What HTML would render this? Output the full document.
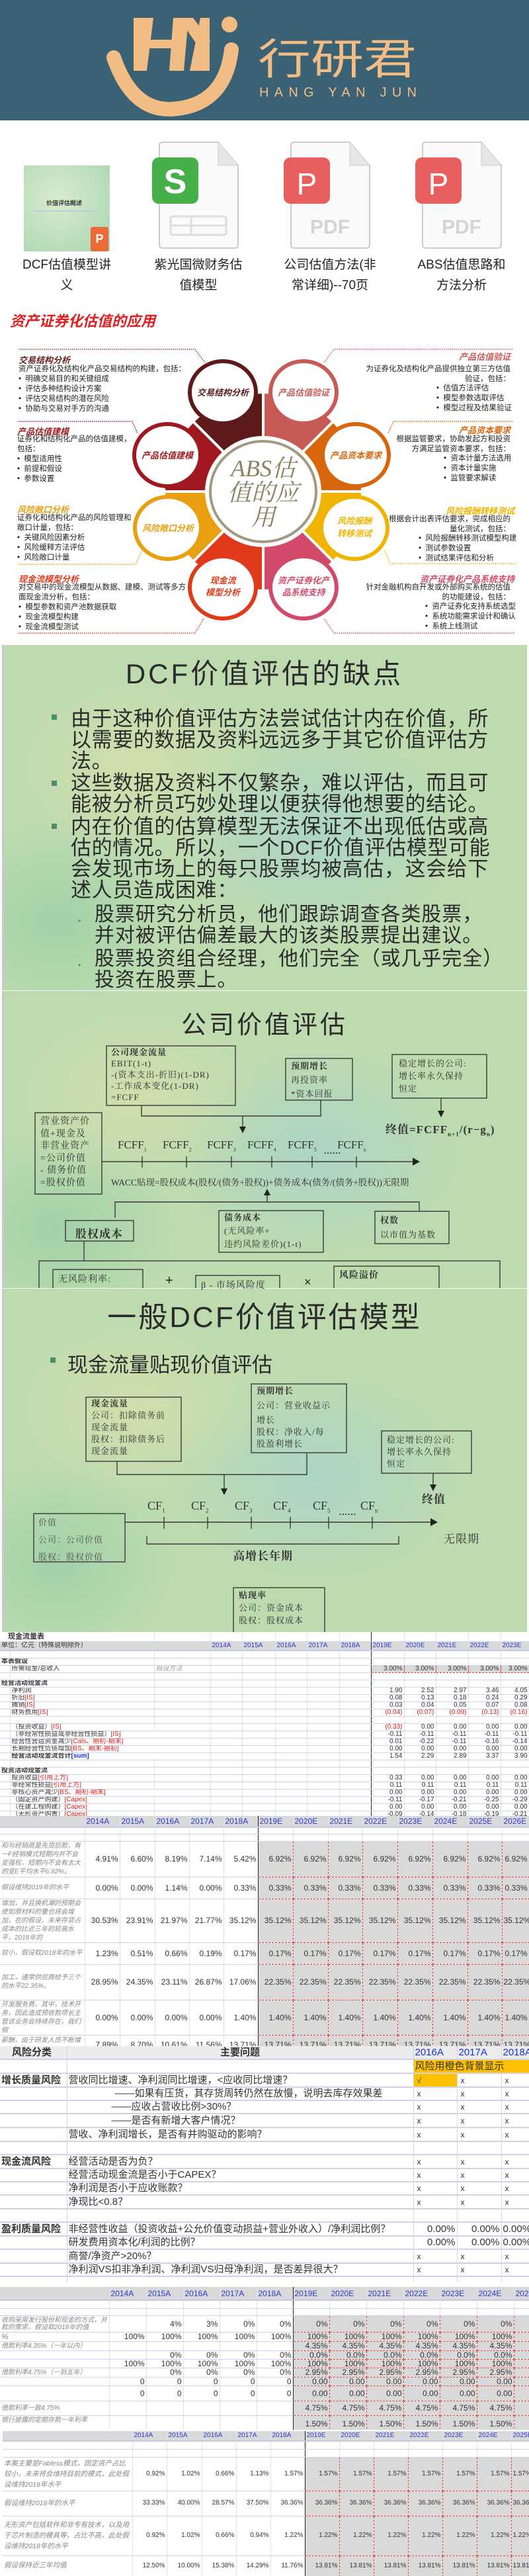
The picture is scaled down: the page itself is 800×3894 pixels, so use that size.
<!DOCTYPE html>
<html><head><meta charset="utf-8"><style>
*{margin:0;padding:0;box-sizing:border-box}
body{width:800px;height:3894px;position:relative;background:#fff;overflow:hidden;font-family:"Liberation Sans","Noto Sans CJK SC",sans-serif;color:#222}
.a{position:absolute;white-space:nowrap}
.sl{position:absolute;left:3px;width:794px;border-left:3px solid #c9c9c9;
background:radial-gradient(ellipse 200px 140px at 25% 35%,rgba(215,225,170,.7),transparent),radial-gradient(ellipse 220px 160px at 60% 55%,rgba(165,210,205,.7),transparent),radial-gradient(ellipse 180px 150px at 85% 20%,rgba(190,220,175,.8),transparent),radial-gradient(ellipse 180px 150px at 10% 80%,rgba(150,205,165,.7),transparent),#bedbb0}
.sr{font-family:"Liberation Serif","Noto Serif CJK SC",serif;color:#333;font-size:13px;letter-spacing:1px}
.b{font-weight:bold}
.bt{font-size:31px;letter-spacing:0.6px;line-height:32px;color:#2b2b2b;font-family:"Liberation Sans","Noto Sans CJK SC",sans-serif;white-space:normal}
.sq{position:absolute;width:8px;height:8px;background:#4a8f68}
.ab{font-size:11.5px;line-height:15px;color:#222}
.ah{font-size:13px;font-weight:bold;font-style:italic}
table{position:absolute;left:0;border-collapse:collapse;table-layout:fixed;font-size:10px;font-family:"Liberation Sans","Noto Sans CJK SC",sans-serif}
td{border-bottom:1px solid #cdd3e6;border-right:1px solid #dfe3ee;padding:0 2px;white-space:nowrap;overflow:hidden;text-align:right;color:#333;line-height:10px}
td.l{text-align:left}
tr.h td{background:#d9d9d9;color:#2a3ad0;text-align:left;border-bottom:2px solid #c4cbe0}
td.e{background:#d9d9d9;border:1px dashed #e03a3a}
td.n{color:#888;font-style:italic;text-align:left;white-space:normal;line-height:13px}
.r{color:#e02020}.bl{color:#1a2fe0}
td.k{border-right:1px solid #222}
.s2 td{font-size:12px}
.rk td{font-size:15px;text-align:left;border-bottom:2px solid #cfd5e6;border-right:1px solid #cfd5e6;line-height:16px}
.rk .x{font-size:12px;padding-left:5px}
</style></head><body>

<div class="a" style="left:0;top:0;width:800px;height:182px;background:#3a6174"></div>
<svg class="a" style="left:0;top:0" width="800" height="182">
<g fill="#f2bd84">
<polygon points="202,27 232,27 222,107 202,107"/>
<polygon points="222,60 262,60 260,73 220,73"/>
<polygon points="262,27 285,27 278,107 256,107"/>
<polygon points="270,27 292,27 318,62 305,78"/>
<polygon points="303,27 317,27 317,107 287,107"/>
<circle cx="347" cy="37" r="12"/>
</g>
<path d="M172,87 Q200,168 260,165 Q340,160 350,75" fill="none" stroke="#f2bd84" stroke-width="22" stroke-linecap="round"/>
<text x="390" y="112" font-size="64" fill="#f2bd84" font-family="Noto Sans CJK SC" textLength="240" lengthAdjust="spacingAndGlyphs">行研君</text>
<text x="392" y="146" font-size="20" fill="#f2bd84" font-family="Liberation Sans" textLength="238" lengthAdjust="spacing">HANG YAN JUN</text>
</svg>

<div class="a" style="left:36px;top:250px;width:130px;height:130px;background:radial-gradient(circle at 40% 40%,#d9ecd0,#b7dcb9 70%,#a9d3b0)"></div>
<div class="a" style="left:70px;top:300px;font-size:9px;font-weight:bold;color:#333">价值评估概述</div>
<div class="a" style="left:50px;top:318px;width:100px;height:2px;background:#b8d0d8"></div>
<div class="a" style="left:137px;top:343px;width:27px;height:37px;background:#ea6a38;border-radius:3px;color:#fff;font-weight:bold;font-size:18px;text-align:center;line-height:37px">P</div>
<svg class="a" style="left:0;top:210px" width="800" height="170">
<g id="d"><path d="M241,10 Q241,5 246,5 L330,5 L360,40 L360,160 Q360,165 355,165 L246,165 Q241,165 241,160 Z" fill="#fafafa" stroke="#ccc" stroke-width="2"/><path d="M330,5 L330,40 L360,40" fill="#e6e6e6" stroke="#ccc" stroke-width="1"/></g>
<use href="#d" x="199"/><use href="#d" x="398"/>
<rect x="230" y="28" width="70" height="70" rx="10" fill="#45b04a"/>
<text x="265" y="82" font-size="52" fill="#fff" text-anchor="middle" font-family="Liberation Sans" font-weight="bold">S</text>
<rect x="258" y="117" width="84" height="28" rx="3" fill="none" stroke="#ddd" stroke-width="3"/><line x1="258" y1="131" x2="342" y2="131" stroke="#ddd" stroke-width="3"/><line x1="289" y1="117" x2="289" y2="145" stroke="#ddd" stroke-width="3"/>
<rect x="429" y="28" width="70" height="70" rx="10" fill="#e95f5f"/>
<rect x="628" y="28" width="70" height="70" rx="10" fill="#e95f5f"/>
<text x="464" y="84" font-size="46" fill="#fff" text-anchor="middle" font-family="Liberation Sans">P</text>
<text x="663" y="84" font-size="46" fill="#fff" text-anchor="middle" font-family="Liberation Sans">P</text>
<text x="499" y="143" font-size="30" fill="#d4d4d4" text-anchor="middle" font-family="Liberation Sans" font-weight="bold">PDF</text>
<text x="698" y="143" font-size="30" fill="#d4d4d4" text-anchor="middle" font-family="Liberation Sans" font-weight="bold">PDF</text>
</svg>
<div class="a" style="left:21px;top:385px;width:160px;text-align:center;font-size:19px;line-height:31px;white-space:normal">DCF估值模型讲<br>义</div>
<div class="a" style="left:220px;top:385px;width:160px;text-align:center;font-size:19px;line-height:31px">紫光国微财务估<br>值模型</div>
<div class="a" style="left:414px;top:385px;width:170px;text-align:center;font-size:19px;line-height:31px">公司估值方法(非<br>常详细)--70页</div>
<div class="a" style="left:613px;top:385px;width:170px;text-align:center;font-size:19px;line-height:31px">ABS估值思路和<br>方法分析</div>

<div class="a" style="left:15px;top:468px;font-size:22px;color:#e02020;font-style:italic;font-weight:bold">资产证券化估值的应用</div>

<svg class="a" style="left:0;top:0" width="800" height="980">
<g stroke="#fff" stroke-width="4">
<path d="M398,743 L398,593 A150,150 0 0 1 504,637 Z" fill="#c85a55"/>
<path d="M398,743 L504,637 A150,150 0 0 1 548,743 Z" fill="#d8660c"/>
<path d="M398,743 L548,743 A150,150 0 0 1 504,849 Z" fill="#f0b400"/>
<path d="M398,743 L504,849 A150,150 0 0 1 398,893 Z" fill="#d24a6a"/>
<path d="M398,743 L398,893 A150,150 0 0 1 292,849 Z" fill="#e03a1a"/>
<path d="M398,743 L292,849 A150,150 0 0 1 248,743 Z" fill="#e8a010"/>
<path d="M398,743 L248,743 A150,150 0 0 1 292,637 Z" fill="#a01820"/>
<path d="M398,743 L292,637 A150,150 0 0 1 398,593 Z" fill="#5c1a1a"/>
</g>
<g fill="#fff" stroke-width="6">
<ellipse cx="337" cy="593" rx="50" ry="47" stroke="#5c1a1a"/>
<ellipse cx="459" cy="593" rx="50" ry="47" stroke="#c85a55"/>
<ellipse cx="538" cy="688" rx="50" ry="47" stroke="#d8660c"/>
<ellipse cx="536" cy="798" rx="50" ry="47" stroke="#f0b400"/>
<ellipse cx="459" cy="888" rx="50" ry="47" stroke="#d24a6a"/>
<ellipse cx="337" cy="888" rx="50" ry="47" stroke="#e03a1a"/>
<ellipse cx="254" cy="798" rx="50" ry="47" stroke="#e8a010"/>
<ellipse cx="253" cy="688" rx="50" ry="47" stroke="#a01820"/>
</g>
<ellipse cx="398" cy="743" rx="88" ry="84" fill="#fff"/>
<ellipse cx="398" cy="743" rx="80" ry="76" fill="#fff" stroke="#a09a80" stroke-width="4"/>
<g font-size="13" font-weight="bold" font-style="italic" text-anchor="middle" font-family="Noto Sans CJK SC">
<text x="337" y="598" fill="#5c1a1a">交易结构分析</text>
<text x="459" y="598" fill="#c85a55">产品估值验证</text>
<text x="538" y="693" fill="#d8660c">产品资本要求</text>
<text x="536" y="792" fill="#f0b400">风险报酬</text><text x="536" y="811" fill="#f0b400">转移测试</text>
<text x="459" y="882" fill="#d24a6a">资产证券化产</text><text x="459" y="900" fill="#d24a6a">品系统支持</text>
<text x="337" y="882" fill="#e03a1a">现金流</text><text x="337" y="900" fill="#e03a1a">模型分析</text>
<text x="254" y="803" fill="#e8a010">风险敞口分析</text>
<text x="253" y="693" fill="#a01820">产品估值建模</text>
</g>
<g font-size="36" fill="#8a8262" text-anchor="middle" font-family="Liberation Serif,Noto Serif CJK SC" font-style="italic">
<text x="398" y="720">ABS估</text><text x="398" y="757">值的应</text><text x="398" y="794">用</text></g>
<g fill="none" stroke-width="1.5" stroke-dasharray="1.5,1.5">
<path d="M28,528 L295,528 L310,548" stroke="#8b3a3a"/>
<path d="M28,637 L200,637 L208,655" stroke="#a01820"/>
<path d="M28,853 L205,853 L215,832" stroke="#e8a010"/>
<path d="M28,957 L295,957 L308,935" stroke="#e03a1a"/>
<path d="M775,528 L505,528 L490,548" stroke="#c85a55"/>
<path d="M775,637 L595,637 L587,655" stroke="#d8660c"/>
<path d="M780,852 L590,852 L582,832" stroke="#f0b400"/>
<path d="M778,957 L505,957 L490,935" stroke="#d24a6a"/>
</g>
</svg>
<div class="a ah" style="left:28px;top:534px;color:#6a2020">交易结构分析</div>
<div class="a ab" style="left:28px;top:551px">资产证券化及结构化产品交易结构的构建，包括：<br>•&nbsp; 明确交易目的和关键组成<br>•&nbsp; 评估多种结构设计方案<br>•&nbsp; 评估交易结构的潜在风险<br>•&nbsp; 协助与交易对手方的沟通</div>
<div class="a ah" style="left:26px;top:642px;color:#a01820">产品估值建模</div>
<div class="a ab" style="left:26px;top:657px">证券化和结构化产品的估值建模，<br>包括：<br>•&nbsp; 模型适用性<br>•&nbsp; 前提和假设<br>•&nbsp; 参数设置</div>
<div class="a ah" style="left:26px;top:760px;color:#e8a010">风险敞口分析</div>
<div class="a ab" style="left:26px;top:776px">证券化和结构化产品的风险管理和<br>敞口计量，包括：<br>•&nbsp; 关键风险因素分析<br>•&nbsp; 风险缓释方法评估<br>•&nbsp; 风险敞口计量</div>
<div class="a ah" style="left:28px;top:865px;color:#e03a1a">现金流模型分析</div>
<div class="a ab" style="left:28px;top:881px">对交易中的现金流模型从数据、建模、测试等多方<br>面现金流分析，包括：<br>•&nbsp; 模型参数和资产池数据获取<br>•&nbsp; 现金流模型构建<br>•&nbsp; 现金流模型测试</div>

<div class="a ah" style="right:28px;top:529px;color:#c85a55">产品估值验证</div>
<div class="a ab" style="right:28px;top:551px;text-align:right">为证券化及结构化产品提供独立第三方估值<br>验证，包括：</div>
<div class="a ab" style="left:660px;top:580px">•&nbsp; 估值方法评估<br>•&nbsp; 模型参数选取评估<br>•&nbsp; 模型过程及结果验证</div>
<div class="a ah" style="right:28px;top:640px;color:#d8660c">产品资本要求</div>
<div class="a ab" style="right:28px;top:657px;text-align:right">根据监管要求，协助发起方和投资<br>方满足监管资本要求，包括：</div>
<div class="a ab" style="left:671px;top:686px">•&nbsp; 资本计量方法选用<br>•&nbsp; 资本计量实施<br>•&nbsp; 监管要求解读</div>
<div class="a ah" style="right:22px;top:762px;color:#f0b400">风险报酬转移测试</div>
<div class="a ab" style="right:28px;top:778px;text-align:right">根据会计出表评估要求，完成相应的<br>量化测试，包括：</div>
<div class="a ab" style="left:633px;top:807px">•&nbsp; 风险报酬转移测试模型构建<br>•&nbsp; 测试参数设置<br>•&nbsp; 测试结果评估和分析</div>
<div class="a ah" style="right:22px;top:865px;color:#d24a6a">资产证券化产品系统支持</div>
<div class="a ab" style="right:28px;top:881px;text-align:right">针对金融机构自开发或外部购买系统的估值<br>的功能建设，包括：</div>
<div class="a ab" style="left:643px;top:910px">•&nbsp; 资产证券化支持系统选型<br>•&nbsp; 系统功能需求设计和确认<br>•&nbsp; 系统上线测试</div>

<div class="sl" style="top:975px;height:522px"></div>
<div class="sl" style="top:1498px;height:449px"></div>
<div class="sl" style="top:1948px;height:519px"></div>

<div class="a" style="left:0;width:800px;top:985px;text-align:center;font-size:42px;letter-spacing:4px;color:#2b2b2b">DCF价值评估的缺点</div>
<div class="sq" style="left:78px;top:1080px"></div><div class="sq" style="left:78px;top:1180px"></div><div class="sq" style="left:78px;top:1245px"></div>
<div class="a bt" style="left:107px;top:1071px;width:640px">由于这种价值评估方法尝试估计内在价值，所以需要的数据及资料远远多于其它价值评估方法。</div>
<div class="a bt" style="left:107px;top:1168px;width:640px">这些数据及资料不仅繁杂，难以评估，而且可能被分析员巧妙处理以便获得他想要的结论。</div>
<div class="a bt" style="left:107px;top:1234px;width:640px">内在价值的估算模型无法保证不出现低估或高估的情况。所以，一个DCF价值评估模型可能会发现市场上的每只股票均被高估，这会给下述人员造成困难：</div>
<div class="a" style="left:118px;top:1385px;font-size:12px;color:#4a8f68">•</div><div class="a" style="left:118px;top:1452px;font-size:12px;color:#4a8f68">•</div>
<div class="a bt" style="left:143px;top:1367px;width:595px;font-size:30px;letter-spacing:0.9px">股票研究分析员，他们跟踪调查各类股票，并对被评估偏差最大的该类股票提出建议。</div>
<div class="a bt" style="left:143px;top:1434px;width:625px;font-size:30px;letter-spacing:0.9px">股票投资组合经理，他们完全（或几乎完全）投资在股票上。</div>

<svg class="a" style="left:0;top:0" width="800" height="2470">
<defs><clipPath id="c2"><rect x="0" y="1498" width="800" height="449"/></clipPath><clipPath id="c3"><rect x="0" y="1948" width="800" height="519"/></clipPath></defs>
<g fill="none" stroke="#3a3a3a" stroke-width="1.4">
<rect x="161" y="1581" width="195" height="90"/><rect x="432" y="1600" width="101" height="63"/><rect x="593" y="1594" width="143" height="66"/>
<polyline points="214,1671 214,1687 485,1687 485,1663"/><line x1="367" y1="1687" x2="367" y2="1705"/><line x1="667" y1="1660" x2="667" y2="1681"/>
<rect x="53" y="1682" width="101" height="123"/><line x1="154" y1="1756" x2="625" y2="1756"/>
<path d="M215,1748V1765M282,1748V1765M350,1748V1765M411,1748V1765M472,1748V1765M539,1748V1765"/>
<line x1="404" y1="1817" x2="404" y2="1805"/><polyline points="174,1841 174,1817 634,1817 634,1831"/>
<rect x="99" y="1845" width="103" height="31"/><rect x="331" y="1830" width="158" height="63"/><rect x="567" y="1831" width="112" height="49"/>
<line x1="127" y1="1876" x2="127" y2="1906"/>
<g clip-path="url(#c2)"><rect x="59" y="1906" width="697" height="80"/><rect x="80" y="1919" width="136" height="60"/><rect x="296" y="1928" width="127" height="40"/><rect x="505" y="1914" width="159" height="60"/></g>
<rect x="130" y="2112" width="144" height="97"/><rect x="380" y="2092" width="144" height="104"/><rect x="577" y="2163" width="136" height="64"/>
<polyline points="177,2209 177,2229 464,2229 464,2196"/><line x1="339" y1="2229" x2="339" y2="2252"/><line x1="655" y1="2227" x2="655" y2="2246"/>
<rect x="51" y="2288" width="138" height="73"/><line x1="189" y1="2301" x2="653" y2="2301"/>
<path d="M248,2293V2311M314,2293V2311M380,2293V2311M439,2293V2311M497,2293V2311M563,2293V2311"/>
<polyline points="222,2322 222,2334 603,2334 603,2322"/>
<g clip-path="url(#c3)"><rect x="353" y="2400" width="138" height="80"/></g>
</g>
<g fill="#222">
<polygon points="362,1703 372,1703 367,1713"/><polygon points="662,1679 672,1679 667,1689"/><polygon points="624,1750 635,1756 624,1762"/><polygon points="399,1807 409,1807 404,1797"/>
<polygon points="334,2250 344,2250 339,2260"/><polygon points="650,2244 660,2244 655,2254"/><polygon points="651,2295 662,2301 651,2307"/>
</g>
</svg>

<div class="a" style="left:0;width:800px;top:1518px;text-align:center;font-size:38px;letter-spacing:4px;color:#2b2b2b">公司价值评估</div>
<div class="a sr" style="left:168px;top:1582px;line-height:17px"><span class="b">公司现金流量</span><br>EBIT(1-t)<br>-(资本支出-折旧)(1-DR)<br>-工作成本变化(1-DR)<br>=FCFF</div>
<div class="a sr" style="left:440px;top:1601px;line-height:21px"><span class="b">预期增长</span><br>再投资率<br>*资本回报</div>
<div class="a sr" style="left:603px;top:1598px;line-height:19px">稳定增长的公司:<br>增长率永久保持<br>恒定</div>
<div class="a sr" style="left:583px;top:1693px;font-size:17px;font-weight:bold">终值=FCFF<sub style="font-size:9px">n+1</sub>/(r−g<sub style="font-size:9px">n</sub>)</div>
<div class="a sr" style="left:61px;top:1687px;line-height:18.5px;font-size:14px">营业资产价<br>值+现金及<br>非营业资产<br>=公司价值<br>- 债务价值<br>=股权价值</div>
<div class="a sr" style="left:178px;top:1721px;font-size:17px;letter-spacing:0">FCFF<sub style="font-size:8px">1</sub></div>
<div class="a sr" style="left:246px;top:1721px;font-size:17px;letter-spacing:0">FCFF<sub style="font-size:8px">2</sub></div>
<div class="a sr" style="left:313px;top:1721px;font-size:17px;letter-spacing:0">FCFF<sub style="font-size:8px">3</sub></div>
<div class="a sr" style="left:374px;top:1721px;font-size:17px;letter-spacing:0">FCFF<sub style="font-size:8px">4</sub></div>
<div class="a sr" style="left:435px;top:1721px;font-size:17px;letter-spacing:0">FCFF<sub style="font-size:8px">5</sub></div>
<div class="a sr" style="left:510px;top:1721px;font-size:17px;letter-spacing:0">FCFF<sub style="font-size:8px">n</sub></div>
<div class="a b" style="left:490px;top:1733px;font-size:12px;letter-spacing:1px">......</div>
<div class="a sr" style="left:168px;top:1776px;letter-spacing:0;font-size:13.5px">WACC贴现=股权成本(股权/(债务+股权))+债务成本(债务/(债务+股权))无限期</div>
<div class="a sr b" style="left:114px;top:1851px;font-size:17px">股权成本</div>
<div class="a sr" style="left:339px;top:1831px;line-height:20px"><span class="b">债务成本</span><br>(无风险率+<br>违约风险差价)(1-t)</div>
<div class="a sr" style="left:575px;top:1834px;line-height:22px"><span class="b">权数</span><br>以市值为基数</div>
<div class="a sr" style="left:88px;top:1923px;font-size:14px">无风险利率:</div>
<div class="a" style="left:250px;top:1925px;font-size:20px">+</div>
<div class="a sr" style="left:304px;top:1932px;font-size:14px">β - 市场风险度</div>
<div class="a" style="left:460px;top:1928px;font-size:18px">×</div>
<div class="a sr b" style="left:513px;top:1917px;font-size:14px">风险溢价</div>

<div class="a" style="left:0;width:800px;top:1955px;text-align:center;font-size:44px;letter-spacing:3px;color:#2b2b2b">一般DCF价值评估模型</div>
<div class="sq" style="left:76px;top:2052px"></div>
<div class="a" style="left:102px;top:2038px;font-size:31px;color:#2b2b2b">现金流量贴现价值评估</div>
<div class="a sr" style="left:138px;top:2113px;line-height:18px"><span class="b">现金流量</span><br>公司：扣除债务前<br>现金流量<br>股权：扣除债务后<br>现金流量</div>
<div class="a sr" style="left:388px;top:2094px;line-height:18px"><span class="b">预期增长</span><br><span style="line-height:26px">公司：营业收益示</span><br>增长<br>股权：净收入/每<br>股盈利增长</div>
<div class="a sr" style="left:585px;top:2168px;line-height:18px">稳定增长的公司:<br>增长率永久保持<br>恒定</div>
<div class="a sr b" style="left:638px;top:2252px;font-size:17px">终值</div>
<div class="a sr" style="left:223px;top:2266px;font-size:18px;letter-spacing:0">CF<sub style="font-size:9px">1</sub></div>
<div class="a sr" style="left:289px;top:2266px;font-size:18px;letter-spacing:0">CF<sub style="font-size:9px">2</sub></div>
<div class="a sr" style="left:355px;top:2266px;font-size:18px;letter-spacing:0">CF<sub style="font-size:9px">3</sub></div>
<div class="a sr" style="left:413px;top:2266px;font-size:18px;letter-spacing:0">CF<sub style="font-size:9px">4</sub></div>
<div class="a sr" style="left:473px;top:2266px;font-size:18px;letter-spacing:0">CF<sub style="font-size:9px">5</sub></div>
<div class="a sr" style="left:545px;top:2266px;font-size:18px;letter-spacing:0">CF<sub style="font-size:9px">n</sub></div>
<div class="a b" style="left:513px;top:2279px;font-size:12px;letter-spacing:1px">......</div>
<div class="a sr" style="left:58px;top:2291px;line-height:22px;color:#555"><span>价值</span><br><span style="line-height:30px">公司：公司价值</span><br>股权：股权价值</div>
<div class="a sr" style="left:671px;top:2312px;font-size:17px">无限期</div>
<div class="a sr b" style="left:353px;top:2338px;font-size:17px">高增长年期</div>
<div class="a sr" style="left:361px;top:2402px;line-height:19px"><span class="b">贴现率</span><br>公司：资金成本<br>股权：股权成本</div>

<div class="a" style="left:0;top:2467px;width:800px;height:278px;overflow:hidden">
<table style="top:0;width:800px">
<colgroup><col style="width:15px"><col style="width:218px"><col style="width:85px"><col style="width:48px"><col style="width:50px"><col style="width:48px"><col style="width:49px"><col style="width:48px"><col style="width:50px"><col style="width:48px"><col style="width:49px"><col style="width:49px"><col style="width:43px"></colgroup>
<tr style="height:14px"><td class="l" colspan="2" style="font-weight:bold;font-size:11px;padding-left:12px">现金流量表</td><td></td><td></td><td></td><td></td><td></td><td class="k"></td><td></td><td></td><td></td><td></td><td></td></tr>
<tr class="h" style="height:14px"><td colspan="2" style="color:#333">单位：亿元（特殊说明除外）</td><td></td><td>2014A</td><td>2015A</td><td>2016A</td><td>2017A</td><td class="k">2018A</td><td>2019E</td><td>2020E</td><td>2021E</td><td>2022E</td><td>2023E</td></tr>
<tr style="height:11px"><td></td><td></td><td></td><td></td><td></td><td></td><td></td><td class="k"></td><td></td><td></td><td></td><td></td><td></td></tr>
<tr style="height:11px"><td class="l b" colspan="2">本表假设</td><td></td><td></td><td></td><td></td><td></td><td class="k"></td><td></td><td></td><td></td><td></td><td></td></tr>
<tr style="height:11px"><td></td><td class="l">所需现金/总收入</td><td class="l" style="color:#999;font-style:italic">假设方法</td><td></td><td></td><td></td><td></td><td class="k"></td><td class="e">3.00%</td><td class="e">3.00%</td><td class="e">3.00%</td><td class="e">3.00%</td><td class="e">3.00%</td></tr>
<tr style="height:11px"><td></td><td></td><td></td><td></td><td></td><td></td><td></td><td class="k"></td><td></td><td></td><td></td><td></td><td></td></tr>
<tr style="height:11px"><td class="l b" colspan="2">经营活动现金流</td><td></td><td></td><td></td><td></td><td></td><td class="k"></td><td></td><td></td><td></td><td></td><td></td></tr>
<tr style="height:11px"><td></td><td class="l">净利润</td><td></td><td></td><td></td><td></td><td></td><td class="k"></td><td>1.90</td><td>2.52</td><td>2.97</td><td>3.46</td><td>4.05</td></tr>
<tr style="height:11px"><td></td><td class="l">折旧<span class="r">[IS]</span></td><td></td><td></td><td></td><td></td><td></td><td class="k"></td><td>0.08</td><td>0.13</td><td>0.18</td><td>0.24</td><td>0.29</td></tr>
<tr style="height:11px"><td></td><td class="l">摊销<span class="r">[IS]</span></td><td></td><td></td><td></td><td></td><td></td><td class="k"></td><td>0.03</td><td>0.04</td><td>0.05</td><td>0.07</td><td>0.08</td></tr>
<tr style="height:11px"><td></td><td class="l">财务费用<span class="r">[IS]</span></td><td></td><td></td><td></td><td></td><td></td><td class="k"></td><td class="r">(0.04)</td><td class="r">(0.07)</td><td class="r">(0.09)</td><td class="r">(0.13)</td><td class="r">(0.16)</td></tr>
<tr style="height:11px"><td></td><td></td><td></td><td></td><td></td><td></td><td></td><td class="k"></td><td></td><td></td><td></td><td></td><td></td></tr>
<tr style="height:11px"><td></td><td class="l">（投资收益）<span class="r">[IS]</span></td><td></td><td></td><td></td><td></td><td></td><td class="k"></td><td class="r">(0.33)</td><td>0.00</td><td>0.00</td><td>0.00</td><td>0.00</td></tr>
<tr style="height:11px"><td></td><td class="l" colspan="2">（非经常性损益或非经营性损益）<span class="r">[IS]</span></td><td></td><td></td><td></td><td></td><td class="k"></td><td>-0.11</td><td>-0.11</td><td>-0.11</td><td>-0.11</td><td>-0.11</td></tr>
<tr style="height:11px"><td></td><td class="l" colspan="2">经营性营运资金减少<span class="r">[Cals、期初-期末]</span></td><td></td><td></td><td></td><td></td><td class="k"></td><td>0.01</td><td>-0.22</td><td>-0.11</td><td>-0.16</td><td>-0.14</td></tr>
<tr style="height:11px"><td></td><td class="l" colspan="2">长期经营性负债增加<span class="r">[BS、期末-期初]</span></td><td></td><td></td><td></td><td></td><td class="k"></td><td>0.00</td><td>0.00</td><td>0.00</td><td>0.00</td><td>0.00</td></tr>
<tr style="height:11px"><td></td><td class="l b" colspan="2">经营活动现金流合计<span class="bl">[sum]</span></td><td></td><td></td><td></td><td></td><td class="k"></td><td>1.54</td><td>2.29</td><td>2.89</td><td>3.37</td><td>3.90</td></tr>
<tr style="height:11px"><td></td><td></td><td></td><td></td><td></td><td></td><td></td><td class="k"></td><td></td><td></td><td></td><td></td><td></td></tr>
<tr style="height:11px"><td class="l b" colspan="2">投资活动现金流</td><td></td><td></td><td></td><td></td><td></td><td class="k"></td><td></td><td></td><td></td><td></td><td></td></tr>
<tr style="height:11px"><td></td><td class="l">投资收益<span class="r">[引用上方]</span></td><td></td><td></td><td></td><td></td><td></td><td class="k"></td><td>0.33</td><td>0.00</td><td>0.00</td><td>0.00</td><td>0.00</td></tr>
<tr style="height:11px"><td></td><td class="l">非经常性损益<span class="r">[引用上方]</span></td><td></td><td></td><td></td><td></td><td></td><td class="k"></td><td>0.11</td><td>0.11</td><td>0.11</td><td>0.11</td><td>0.11</td></tr>
<tr style="height:11px"><td></td><td class="l" colspan="2">非核心资产减少<span class="r">[BS、期初-期末]</span></td><td></td><td></td><td></td><td></td><td class="k"></td><td>0.00</td><td>0.00</td><td>0.00</td><td>0.00</td><td>0.00</td></tr>
<tr style="height:11px"><td></td><td class="l">（固定资产购建）<span class="r">[Capex]</span></td><td></td><td></td><td></td><td></td><td></td><td class="k"></td><td>-0.11</td><td>-0.17</td><td>-0.21</td><td>-0.25</td><td>-0.29</td></tr>
<tr style="height:11px"><td></td><td class="l">（在建工程购建）<span class="r">[Capex]</span></td><td></td><td></td><td></td><td></td><td></td><td class="k"></td><td>0.00</td><td>0.00</td><td>0.00</td><td>0.00</td><td>0.00</td></tr>
<tr style="height:11px"><td></td><td class="l">（无形资产购置）<span class="r">[Capex]</span></td><td></td><td></td><td></td><td></td><td></td><td class="k"></td><td>-0.09</td><td>-0.14</td><td>-0.18</td><td>-0.19</td><td>-0.21</td></tr>
</table></div>

<div class="a" style="left:0;top:2745px;width:800px;height:348px;overflow:hidden">
<table class="s2" style="top:0;width:800px">
<colgroup><col style="width:128px"><col style="width:53px"><col style="width:53px"><col style="width:52px"><col style="width:52px"><col style="width:52px"><col style="width:53px"><col style="width:53px"><col style="width:52px"><col style="width:53px"><col style="width:53px"><col style="width:53px"><col style="width:52px"><col style="width:41px"></colgroup>
<tr class="h" style="height:17px"><td></td><td>2014A</td><td>2015A</td><td>2016A</td><td>2017A</td><td class="k">2018A</td><td>2019E</td><td>2020E</td><td>2021E</td><td>2022E</td><td>2023E</td><td>2024E</td><td>2025E</td><td>2026E</td></tr>
<tr style="height:10px"><td></td><td></td><td></td><td></td><td></td><td class="k"></td><td></td><td></td><td></td><td></td><td></td><td></td><td></td><td></td></tr>
<tr style="height:11px"><td></td><td></td><td></td><td></td><td></td><td class="k"></td><td></td><td></td><td></td><td></td><td></td><td></td><td></td><td></td></tr>
<tr style="height:54px"><td class="n" style="font-size:10px">和与经销商是先货后款，有一F经销模式短期内并不会变强权，短期内不会有太大的变E平均水平6.92%。</td><td>4.91%</td><td>6.60%</td><td>8.19%</td><td>7.14%</td><td class="k">5.42%</td><td class="e">6.92%</td><td class="e">6.92%</td><td class="e">6.92%</td><td class="e">6.92%</td><td class="e">6.92%</td><td class="e">6.92%</td><td class="e">6.92%</td><td class="e">6.92%</td></tr>
<tr style="height:33px"><td class="n" style="font-size:10px">假设维持2019年的水平</td><td>0.00%</td><td>0.00%</td><td>1.14%</td><td>0.00%</td><td class="k">0.33%</td><td class="e">0.33%</td><td class="e">0.33%</td><td class="e">0.33%</td><td class="e">0.33%</td><td class="e">0.33%</td><td class="e">0.33%</td><td class="e">0.33%</td><td class="e">0.33%</td></tr>
<tr style="height:60px"><td class="n" style="font-size:10px">增加，并且换机潮的预期会使如原材料的量也将会增加，在的假设，未来存货占成本的比近三年的较高水平，2018年的</td><td>30.53%</td><td>23.91%</td><td>21.97%</td><td>21.77%</td><td class="k">35.12%</td><td class="e">35.12%</td><td class="e">35.12%</td><td class="e">35.12%</td><td class="e">35.12%</td><td class="e">35.12%</td><td class="e">35.12%</td><td class="e">35.12%</td><td class="e">35.12%</td></tr>
<tr style="height:33px"><td class="n" style="font-size:10px">较小，假设取2018年的水平</td><td>1.23%</td><td>0.51%</td><td>0.66%</td><td>0.19%</td><td class="k">0.17%</td><td class="e">0.17%</td><td class="e">0.17%</td><td class="e">0.17%</td><td class="e">0.17%</td><td class="e">0.17%</td><td class="e">0.17%</td><td class="e">0.17%</td><td class="e">0.17%</td></tr>
<tr style="height:54px"><td class="n" style="font-size:10px">加工，通常供应商给予三个的水平22.35%。</td><td>28.95%</td><td>24.35%</td><td>23.11%</td><td>26.87%</td><td class="k">17.06%</td><td class="e">22.35%</td><td class="e">22.35%</td><td class="e">22.35%</td><td class="e">22.35%</td><td class="e">22.35%</td><td class="e">22.35%</td><td class="e">22.35%</td><td class="e">22.35%</td></tr>
<tr style="height:46px"><td class="n" style="font-size:10px">开发服务费，其中，技术开务，因此造成预收款项长主营该业务会持续存在，我们假</td><td>0.00%</td><td>0.00%</td><td>0.00%</td><td>0.00%</td><td class="k">1.40%</td><td class="e">1.40%</td><td class="e">1.40%</td><td class="e">1.40%</td><td class="e">1.40%</td><td class="e">1.40%</td><td class="e">1.40%</td><td class="e">1.40%</td><td class="e">1.40%</td></tr>
<tr style="height:30px"><td class="n" style="font-size:10px">薪酬，由于研发人员不断增018年的13.53%</td><td>7.89%</td><td>8.70%</td><td>10.61%</td><td>11.56%</td><td class="k">13.71%</td><td class="e">13.71%</td><td class="e">13.71%</td><td class="e">13.71%</td><td class="e">13.71%</td><td class="e">13.71%</td><td class="e">13.71%</td><td class="e">13.71%</td><td class="e">13.71%</td></tr>
</table></div>

<div class="a" style="left:0;top:3093px;width:800px;height:357px;overflow:hidden">
<table class="rk" style="top:0;width:800px">
<colgroup><col style="width:101px"><col style="width:524px"><col style="width:66px"><col style="width:67px"><col style="width:42px"></colgroup>
<tr style="height:20px;background:#ececec"><td class="b" style="padding-left:18px">风险分类</td><td class="b" style="text-align:center">主要问题</td><td class="bl">2016A</td><td class="bl">2017A</td><td class="bl">2018A</td></tr>
<tr style="height:21px"><td></td><td></td><td colspan="3" style="background:#ffc000">风险用橙色背景显示</td></tr>
<tr style="height:21px"><td class="b">增长质量风险</td><td>营收同比增速、净利润同比增速，&lt;应收同比增速？</td><td class="x" style="background:#ffc000">√</td><td class="x">x</td><td class="x">x</td></tr>
<tr style="height:20px"><td></td><td style="padding-left:72px">——如果有压货，其存货周转仍然在放慢，说明去库存效果差</td><td class="x">x</td><td class="x">x</td><td class="x">x</td></tr>
<tr style="height:20px"><td></td><td style="padding-left:67px">——应收占营收比例&gt;30%？</td><td class="x">x</td><td class="x">x</td><td class="x">x</td></tr>
<tr style="height:21px"><td></td><td style="padding-left:67px">——是否有新增大客户情况？</td><td class="x">x</td><td class="x">x</td><td class="x">x</td></tr>
<tr style="height:21px"><td></td><td>营收、净利润增长，是否有并购驱动的影响？</td><td class="x">x</td><td class="x">x</td><td class="x">x</td></tr>
<tr style="height:20px"><td></td><td></td><td></td><td></td><td></td></tr>
<tr style="height:21px"><td class="b">现金流风险</td><td>经营活动是否为负？</td><td class="x">x</td><td class="x">x</td><td class="x">x</td></tr>
<tr style="height:20px"><td></td><td>经营活动现金流是否小于CAPEX？</td><td class="x">x</td><td class="x">x</td><td class="x">x</td></tr>
<tr style="height:20px"><td></td><td>净利润是否小于应收账款？</td><td class="x">x</td><td class="x">x</td><td class="x">x</td></tr>
<tr style="height:21px"><td></td><td>净现比&lt;0.8？</td><td class="x">x</td><td class="x">x</td><td class="x">x</td></tr>
<tr style="height:20px"><td></td><td></td><td></td><td></td><td></td></tr>
<tr style="height:21px"><td class="b">盈利质量风险</td><td>非经营性收益（投资收益+公允价值变动损益+营业外收入）/净利润比例？</td><td style="text-align:right">0.00%</td><td style="text-align:right">0.00%</td><td>0.00%</td></tr>
<tr style="height:20px"><td></td><td>研发费用资本化/利润的比例？</td><td style="text-align:right">0.00%</td><td style="text-align:right">0.00%</td><td>0.00%</td></tr>
<tr style="height:21px"><td></td><td>商誉/净资产&gt;20%？</td><td class="x">x</td><td class="x">x</td><td class="x">x</td></tr>
<tr style="height:20px"><td></td><td>净利润VS扣非净利润、净利润VS归母净利润，是否差异很大？</td><td class="x">x</td><td class="x">x</td><td class="x">x</td></tr>
<tr style="height:12px"><td></td><td></td><td></td><td></td><td></td></tr>
</table></div>

<div class="a" style="left:0;top:3457px;width:800px;height:216px;overflow:hidden">
<table class="s2" style="top:0;width:800px">
<colgroup><col style="width:165px"><col style="width:56px"><col style="width:56px"><col style="width:55px"><col style="width:56px"><col style="width:55px"><col style="width:55px"><col style="width:56px"><col style="width:56px"><col style="width:55px"><col style="width:56px"><col style="width:56px"><col style="width:23px"></colgroup>
<tr class="h" style="height:20px"><td></td><td>2014A</td><td>2015A</td><td>2016A</td><td>2017A</td><td class="k">2018A</td><td>2019E</td><td>2020E</td><td>2021E</td><td>2022E</td><td>2023E</td><td>2024E</td><td>2025E</td></tr>
<tr style="height:12px"><td></td><td></td><td></td><td></td><td></td><td class="k"></td><td></td><td></td><td></td><td></td><td></td><td></td><td></td></tr>
<tr style="height:11px"><td></td><td></td><td></td><td></td><td></td><td class="k"></td><td></td><td></td><td></td><td></td><td></td><td></td><td></td></tr>
<tr style="height:25px"><td class="n" style="font-size:10px;line-height:11px">收购采用发行股份和现金的方式，并款的需求，假设取2018年的值</td><td></td><td>4%</td><td>3%</td><td>0%</td><td class="k">0%</td><td class="e">0%</td><td class="e">0%</td><td class="e">0%</td><td class="e">0%</td><td class="e">0%</td><td class="e">0%</td><td class="e"></td></tr>
<tr style="height:13px"><td class="n">%</td><td>100%</td><td>100%</td><td>100%</td><td>100%</td><td class="k">100%</td><td class="e">100%</td><td class="e">100%</td><td class="e">100%</td><td class="e">100%</td><td class="e">100%</td><td class="e">100%</td><td class="e"></td></tr>
<tr style="height:13px"><td class="n" style="font-size:10px">借款利率4.35%（一年以内）</td><td></td><td></td><td></td><td></td><td class="k"></td><td class="e">4.35%</td><td class="e">4.35%</td><td class="e">4.35%</td><td class="e">4.35%</td><td class="e">4.35%</td><td class="e">4.35%</td><td class="e"></td></tr>
<tr style="height:13px"><td></td><td></td><td>0%</td><td>0%</td><td>0%</td><td class="k">0%</td><td class="e">0.0%</td><td class="e">0.0%</td><td class="e">0.0%</td><td class="e">0.0%</td><td class="e">0.0%</td><td class="e">0.0%</td><td class="e"></td></tr>
<tr style="height:13px"><td></td><td>100%</td><td>100%</td><td>100%</td><td>100%</td><td class="k">100%</td><td class="e">100%</td><td class="e">100%</td><td class="e">100%</td><td class="e">100%</td><td class="e">100%</td><td class="e">100%</td><td class="e"></td></tr>
<tr style="height:13px"><td class="n" style="font-size:10px">借款利率4.75%（一到五年）</td><td></td><td>0%</td><td>0%</td><td>0%</td><td class="k">0%</td><td class="e">2.95%</td><td class="e">2.95%</td><td class="e">2.95%</td><td class="e">2.95%</td><td class="e">2.95%</td><td class="e">2.95%</td><td class="e"></td></tr>
<tr style="height:13px"><td></td><td>0</td><td>0</td><td>0</td><td>0</td><td class="k">0</td><td class="e">0.00</td><td class="e">0.00</td><td class="e">0.00</td><td class="e">0.00</td><td class="e">0.00</td><td class="e">0.00</td><td class="e"></td></tr>
<tr style="height:23px"><td></td><td>0</td><td>0</td><td>0</td><td>0</td><td class="k">0</td><td class="e">0.00</td><td class="e">0.00</td><td class="e">0.00</td><td class="e">0.00</td><td class="e">0.00</td><td class="e">0.00</td><td class="e"></td></tr>
<tr style="height:22px"><td class="n" style="font-size:10px">借款利率一致4.75%</td><td></td><td></td><td></td><td></td><td class="k"></td><td class="e">4.75%</td><td class="e">4.75%</td><td class="e">4.75%</td><td class="e">4.75%</td><td class="e">4.75%</td><td class="e">4.75%</td><td class="e"></td></tr>
<tr style="height:25px"><td class="n" style="font-size:10px;vertical-align:top">银行披露的定期存款一年利率</td><td></td><td></td><td></td><td></td><td class="k"></td><td class="e">1.50%</td><td class="e">1.50%</td><td class="e">1.50%</td><td class="e">1.50%</td><td class="e">1.50%</td><td class="e">1.50%</td><td class="e"></td></tr>
</table></div>

<div class="a" style="left:4px;top:3675px;width:796px;height:219px;overflow:hidden">
<table style="top:0;width:800px">
<colgroup><col style="width:196px"><col style="width:52px"><col style="width:53px"><col style="width:52px"><col style="width:52px"><col style="width:52px"><col style="width:52px"><col style="width:52px"><col style="width:52px"><col style="width:52px"><col style="width:52px"><col style="width:52px"><col style="width:31px"></colgroup>
<tr class="h" style="height:15px"><td></td><td>2014A</td><td>2015A</td><td>2016A</td><td>2017A</td><td class="k">2018A</td><td>2019E</td><td>2020E</td><td>2021E</td><td>2022E</td><td>2023E</td><td>2024E</td><td>2025E</td></tr>
<tr style="height:12px"><td></td><td></td><td></td><td></td><td></td><td class="k"></td><td></td><td></td><td></td><td></td><td></td><td></td><td></td></tr>
<tr style="height:12px"><td></td><td></td><td></td><td></td><td></td><td class="k"></td><td></td><td></td><td></td><td></td><td></td><td></td><td></td></tr>
<tr style="height:51px"><td class="n" style="font-size:10.5px;line-height:16px">本案主要是Fabless模式，固定资产占比较小，未来将会维持目前的模式，此处假设维持2018年水平</td><td>0.92%</td><td>1.02%</td><td>0.66%</td><td>1.13%</td><td class="k">1.57%</td><td class="e">1.57%</td><td class="e">1.57%</td><td class="e">1.57%</td><td class="e">1.57%</td><td class="e">1.57%</td><td class="e">1.57%</td><td class="e">1.57%</td></tr>
<tr style="height:38px"><td class="n" style="font-size:10.5px">假设维持2018年的水平</td><td>33.33%</td><td>40.00%</td><td>28.57%</td><td>37.50%</td><td class="k">36.36%</td><td class="e">36.36%</td><td class="e">36.36%</td><td class="e">36.36%</td><td class="e">36.36%</td><td class="e">36.36%</td><td class="e">36.36%</td><td class="e">36.36%</td></tr>
<tr style="height:60px"><td class="n" style="font-size:10.5px;line-height:16px">无形资产包括软件和非专有技术，以及用于芯片制造的模具等，占比不高，此处假设维持2018年的水平</td><td>0.92%</td><td>1.02%</td><td>0.66%</td><td>0.94%</td><td class="k">1.22%</td><td class="e">1.22%</td><td class="e">1.22%</td><td class="e">1.22%</td><td class="e">1.22%</td><td class="e">1.22%</td><td class="e">1.22%</td><td class="e">1.22%</td></tr>
<tr style="height:31px"><td class="n" style="font-size:10.5px">假设保持近三年均值</td><td>12.50%</td><td>10.00%</td><td>15.38%</td><td>14.29%</td><td class="k">11.76%</td><td class="e">13.81%</td><td class="e">13.81%</td><td class="e">13.81%</td><td class="e">13.81%</td><td class="e">13.81%</td><td class="e">13.81%</td><td class="e">13.81%</td></tr>
</table></div>
</body></html>
